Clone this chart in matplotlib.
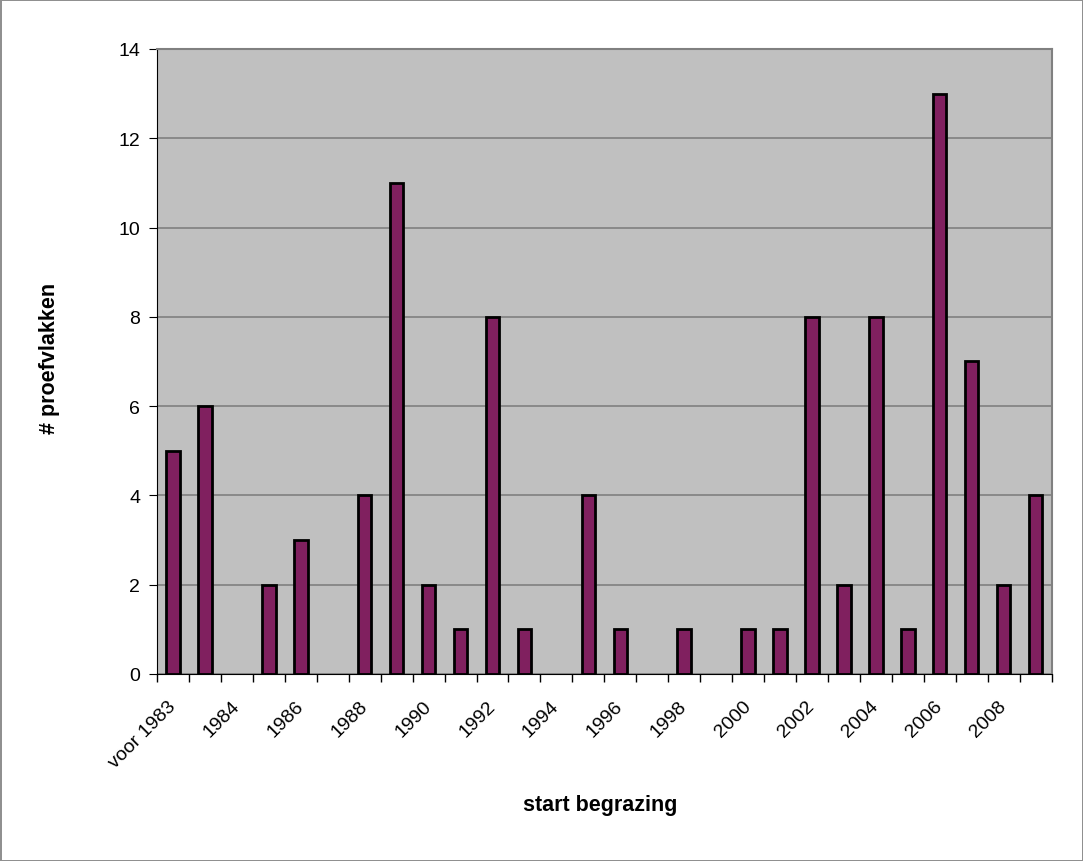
import matplotlib
matplotlib.use('Agg')
import matplotlib.pyplot as plt
import numpy as np

plt.rcParams['font.family'] = ['Liberation Sans', 'DejaVu Sans']

### Data
categories = ['voor 1983'] + [str(y) for y in range(1983, 2010)]
values = [5, 6, 0, 2, 3, 0, 4, 11, 2, 1, 8, 1, 0, 4, 1, 0, 1, 0, 1, 1,
          8, 2, 8, 1, 13, 7, 2, 4]

fig = plt.figure(figsize=(10.83, 8.62), dpi=100)
fig.patch.set_edgecolor('#909090')
fig.patch.set_linewidth(2)
ax = fig.add_axes([0.145, 0.217, 0.826, 0.725])
ax.set_facecolor('#C0C0C0')

x = np.arange(len(categories))
# zero bars draw nothing in the reference, so no outline for them
lw = [2 if v > 0 else 0 for v in values]
ax.bar(x, values, width=0.42, color='#80205F', edgecolor='black', linewidth=lw, zorder=3)

ax.set_xlim(-0.5, len(categories) - 0.5)
ax.set_ylim(0, 14)
ax.set_yticks(np.arange(0, 15, 2))
ax.yaxis.grid(True, color='#808080', linewidth=1.2, zorder=0)

# ticks between categories, labels every other category
ax.set_xticks(np.arange(-0.5, len(categories), 1))
ax.set_xticklabels([])
ax.set_xticks(x[::2], minor=True)
ax.set_xticklabels(categories[::2], minor=True, rotation=45, ha='right', va='center',
                   rotation_mode='anchor', fontsize=14)
ax.tick_params(axis='x', which='minor', length=0, pad=21)
ax.tick_params(axis='x', which='major', length=6, direction='out', width=1)
ax.tick_params(axis='y', length=6, direction='out', labelsize=14, pad=6)

for s in ['top', 'right']:
    ax.spines[s].set_color('#808080')
    ax.spines[s].set_linewidth(1.5)
ax.spines['left'].set_color('black')
ax.spines['bottom'].set_color('black')

ax.set_ylabel('# proefvlakken', fontsize=15.5, fontweight='bold')
ax.yaxis.set_label_coords(-0.1085, 0.506)
fig.text(0.554, 0.065, 'start begrazing', fontsize=15.5, fontweight='bold',
         ha='center', va='center')

plt.savefig('out.png', dpi=100, edgecolor=fig.get_edgecolor())
